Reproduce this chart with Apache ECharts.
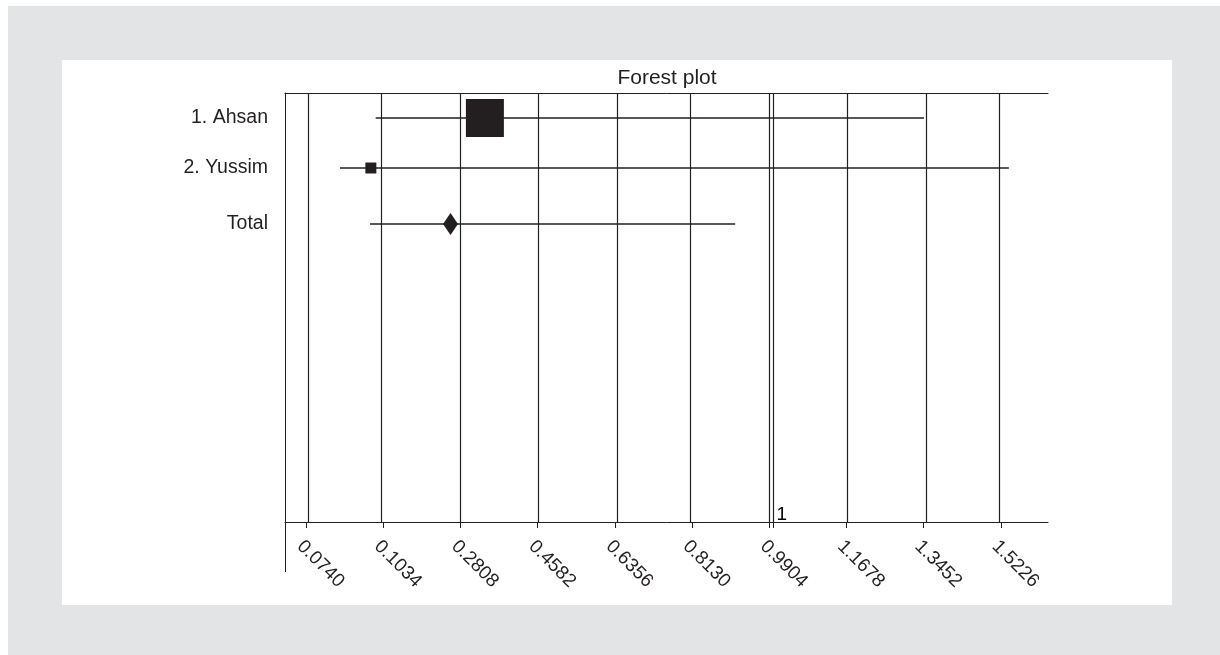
<!DOCTYPE html>
<html><head><meta charset="utf-8">
<script src="https://cdn.jsdelivr.net/npm/echarts@6/dist/echarts.min.js"></script>
<style>
html,body{margin:0;padding:0;background:#fff;width:1220px;height:655px;overflow:hidden}
#bg{position:absolute;left:8px;top:6px;width:1212px;height:649px;background:#e3e4e6}
#panel{position:absolute;left:62px;top:60px;width:1110px;height:545px;background:#fff}
#chart{position:absolute;left:0;top:0;width:1220px;height:655px}
</style></head><body>
<div id="bg"></div><div id="panel"></div><div id="chart"></div>
<script>
// ---- data ----
const studies = ['1. Ahsan', '2. Yussim'];
const studyEst = [0.337, 0.075];
const studyLow = [0.086, 0.004];
const studyHigh = [1.346, 1.541];
const studyWeight = [92.3, 7.7];
const totalLabel = 'Total';
const totalEst = 0.258;
const totalLow = 0.073;
const totalHigh = 0.912;
const rowPos = [0.5, 1.5, 2.62];
const tickValues = [-0.0740, 0.1034, 0.2808, 0.4582, 0.6356, 0.8130, 0.9904, 1.1678, 1.3452, 1.5226];
const tickLabels = ['0.0740', '0.1034', '0.2808', '0.4582', '0.6356', '0.8130', '0.9904', '1.1678', '1.3452', '1.5226'];
const refValue = 1;
const refLabel = '1';
const titleText = 'Forest plot';

// ---- chart ----
const FONT = "'Liberation Sans', Arial, sans-serif";
const INK = '#231f20';
const X_MIN = -0.1223, X_MAX = 1.6309;
const Y_MIN = 0, Y_MAX = 8.58;
const rowNames = studies.concat([totalLabel]);

const ciData = studies.map((s, i) => [studyLow[i], studyHigh[i], rowPos[i]])
  .concat([[totalLow, totalHigh, rowPos[studies.length]]]);
const studyPts = studies.map((s, i) => ({ value: [studyEst[i], rowPos[i]], symbolSize: Math.sqrt(studyWeight[i]) * 3.955 }));

const chart = echarts.init(document.getElementById('chart'), null, { renderer: 'canvas' });
const option = {
  backgroundColor: 'transparent',
  animation: false,
  textStyle: { fontFamily: FONT },
  title: {
    text: titleText, left: 662, top: 63, textAlign: 'center',
    textStyle: { fontFamily: FONT, fontSize: 21, fontWeight: 'normal', color: INK }
  },
  grid: { left: 285, right: 172, top: 93, bottom: 133, containLabel: false },
  xAxis: [{
    type: 'value', min: X_MIN, max: X_MAX, position: 'bottom',
    axisLine: { show: true, onZero: false, lineStyle: { color: INK, width: 1 } },
    axisTick: { show: true, length: 6, customValues: tickValues.concat([refValue]), lineStyle: { color: INK } },
    axisLabel: {
      show: true, customValues: tickValues, rotate: -45, margin: 14,
      align: 'left', verticalAlign: 'top', padding: [0, 0, 0, 1],
      fontFamily: FONT, fontSize: 19, color: INK,
      formatter: v => {
        let best = 0;
        tickValues.forEach((t, i) => { if (Math.abs(t - v) < Math.abs(tickValues[best] - v)) best = i; });
        return tickLabels[best];
      }
    },
    splitLine: { show: false }
  }, {
    type: 'value', min: X_MIN, max: X_MAX, position: 'top',
    axisLine: { show: true, onZero: false, lineStyle: { color: INK, width: 1 } },
    axisTick: { show: false }, axisLabel: { show: false }, splitLine: { show: false }
  }],
  yAxis: {
    type: 'value', min: Y_MIN, max: Y_MAX, inverse: true,
    axisLine: { show: true, onZero: false, lineStyle: { color: INK, width: 1 } },
    axisTick: { show: false },
    axisLabel: {
      show: true, customValues: rowPos, margin: 17, fontFamily: FONT, fontSize: 19.5, color: INK,
      formatter: v => {
        let best = 0;
        rowPos.forEach((t, i) => { if (Math.abs(t - v) < Math.abs(rowPos[best] - v)) best = i; });
        return rowNames[best];
      }
    },
    splitLine: { show: false }
  },
  series: [{
    type: 'custom', name: 'ci', silent: true,
    encode: { x: [0, 1], y: 2 },
    data: ciData,
    renderItem: (params, api) => {
      const a = api.coord([api.value(0), api.value(2)]);
      const b = api.coord([api.value(1), api.value(2)]);
      const y = Math.round(a[1]);
      return { type: 'line', shape: { x1: a[0], y1: y, x2: b[0], y2: y }, style: { stroke: INK, lineWidth: 1.6 } };
    },
    markLine: {
      silent: true, symbol: 'none', animation: false,
      label: { show: false },
      lineStyle: { color: INK, width: 1.2, type: 'solid', opacity: 1 },
      data: tickValues.map(v => ({ xAxis: v })).concat([{ xAxis: refValue }])
    },
    z: 3
  }, {
    type: 'scatter', name: 'studies', symbol: 'rect', silent: true,
    itemStyle: { color: INK, opacity: 1 },
    data: studyPts, z: 5
  }, {
    type: 'scatter', name: 'total', symbol: 'diamond', symbolSize: [15, 22], silent: true,
    itemStyle: { color: INK, opacity: 1 },
    data: [[totalEst, rowPos[studies.length]]], z: 5
  }, {
    type: 'scatter', name: 'ref', symbolSize: 0, silent: true,
    data: [[refValue, 8.44]],
    itemStyle: { opacity: 1 },
    label: { show: true, position: 'right', distance: 3, formatter: refLabel, fontFamily: FONT, fontSize: 19, color: '#000', opacity: 1 },
    z: 5
  }]
};
chart.setOption(option);
const p0 = chart.convertToPixel({ xAxisIndex: 0, yAxisIndex: 0 }, [X_MIN, Y_MAX]);
chart.setOption({
  graphic: [{
    type: 'line', silent: true,
    shape: { x1: Math.round(p0[0]) + 0.5, y1: p0[1], x2: Math.round(p0[0]) + 0.5, y2: p0[1] + 50 },
    style: { stroke: INK, lineWidth: 1 }
  }]
});
</script>
</body></html>
